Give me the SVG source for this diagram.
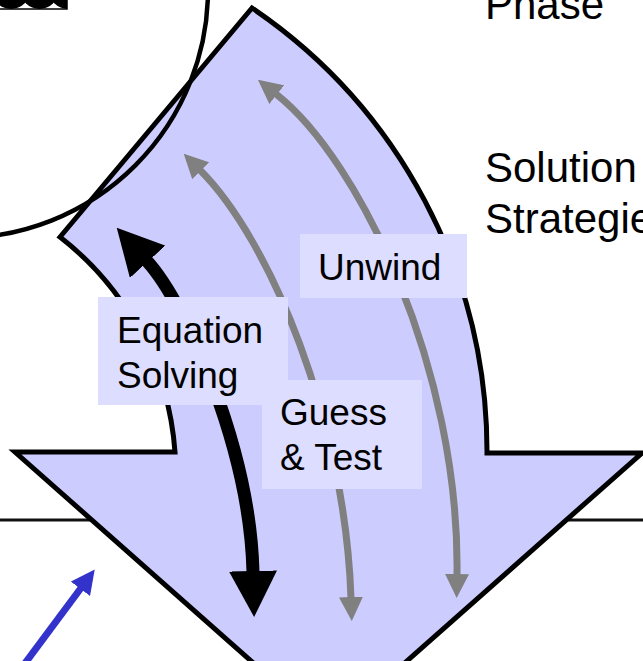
<svg xmlns="http://www.w3.org/2000/svg" width="643" height="661" viewBox="0 0 643 661">
<style>
.txt{font-family:"Liberation Sans",Arial,sans-serif;fill:#000}
.big{font-size:42px}
.lbl{font-size:37px}
.box{fill:#ddddff;stroke:none}
.gray{fill:none;stroke:#808080;stroke-width:7}
</style>
<defs>
<marker id="hb" markerUnits="userSpaceOnUse" viewBox="0 0 46 48" markerWidth="46" markerHeight="48" refX="1" refY="24" orient="auto-start-reverse"><path d="M0,0 L46,24 L0,48 z" fill="#000"/></marker>
<marker id="hg" markerUnits="userSpaceOnUse" viewBox="0 0 24 24" markerWidth="24" markerHeight="24" refX="1" refY="12" orient="auto"><path d="M0,0 L24,12 L0,24 z" fill="#808080"/></marker>
<marker id="hg0" markerUnits="userSpaceOnUse" viewBox="0 0 24 24" markerWidth="24" markerHeight="24" refX="1" refY="12" orient="auto-start-reverse"><path d="M0,0 L24,12 L0,24 z" fill="#808080"/></marker>
<marker id="hbl" markerUnits="userSpaceOnUse" viewBox="0 0 24 24" markerWidth="24" markerHeight="24" refX="1" refY="12" orient="auto"><path d="M0,0 L24,12 L0,24 z" fill="#3333cc"/></marker>
<clipPath id="cb"><rect x="0" y="-20" width="67" height="29"/></clipPath>
</defs>
<g id="baseline"><line x1="0" y1="520" x2="643" y2="520" stroke="#111" stroke-width="3"/></g>
<g id="smallbox">
<rect x="-2" y="-20" width="69" height="29" fill="#fff" stroke="#000" stroke-width="1.5"/>
<g clip-path="url(#cb)" fill="#000"><circle cx="11" cy="-10" r="19"/><circle cx="39.5" cy="-10" r="19"/><circle cx="68" cy="-10" r="19"/></g>
</g>
<g id="bigarrow"><path d="M252,8 A536,536 0 0 1 487,453 L642,453 L329,730 L15,452 L175,452 A300,300 0 0 0 60,237 Z" fill="#ccccff" stroke="#000" stroke-width="5" stroke-linejoin="miter"/></g>
<g id="circle"><circle cx="-40" cy="-10" r="248" fill="none" stroke="#000" stroke-width="4.5"/></g>
<g id="connectors">
<path d="M147,261 C187,305 250,450 253,572" fill="none" stroke="#000" stroke-width="13" marker-start="url(#hb)" marker-end="url(#hb)"/>
<path class="gray" d="M200,170 C270,240 345,420 351,598" marker-start="url(#hg0)" marker-end="url(#hg)"/>
<path class="gray" d="M276,94 C360,160 460,370 457,575" marker-start="url(#hg0)" marker-end="url(#hg)"/>
<line x1="20" y1="670" x2="81" y2="588" stroke="#3333cc" stroke-width="7" marker-end="url(#hbl)"/>
</g>
<g id="label-unwind"><rect class="box" x="300" y="234" width="167" height="64"/><text class="txt lbl" x="318" y="280">Unwind</text></g>
<g id="label-equation"><rect class="box" x="98" y="297" width="190" height="108"/><text class="txt lbl" x="117" y="343">Equation</text><text class="txt lbl" x="117" y="388">Solving</text></g>
<g id="label-guess"><rect class="box" x="262" y="380" width="160" height="109"/><text class="txt lbl" x="280" y="425">Guess</text><text class="txt lbl" x="280" y="470">&amp; Test</text></g>
<g id="side-text">
<text class="txt big" x="485" y="19">Phase</text>
<text class="txt big" x="485" y="182">Solution</text>
<text class="txt big" x="485" y="233">Strategies</text>
</g>
</svg>
